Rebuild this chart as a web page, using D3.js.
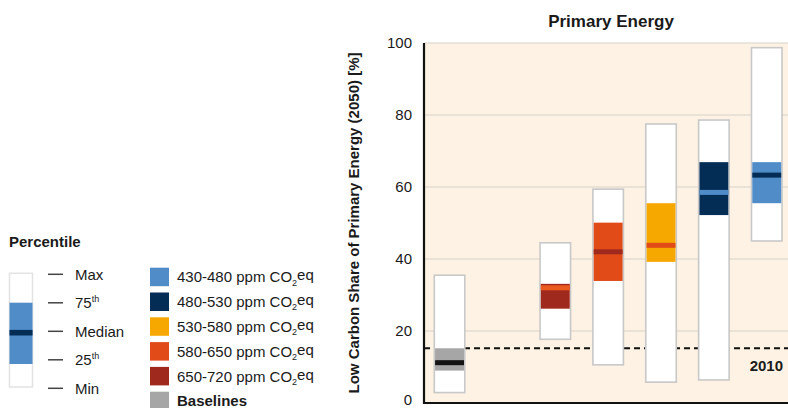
<!DOCTYPE html>
<html>
<head>
<meta charset="utf-8">
<script src="https://cdn.jsdelivr.net/npm/d3@7"></script>
<style>
  html, body { margin: 0; padding: 0; background: #ffffff; }
  svg { display: block; }
  text { font-family: "Liberation Sans Narrow", "Arial Narrow", "Liberation Sans", sans-serif; fill: #1a1a1a; }
</style>
</head>
<body>
<svg id="chart" width="788" height="408"></svg>
<script>
// Scenario categories, left to right on the x axis (one slot holds no scenarios)
const categories = ["Baselines", "720-1000 ppm CO2eq", "650-720 ppm CO2eq", "580-650 ppm CO2eq",
                    "530-580 ppm CO2eq", "480-530 ppm CO2eq", "430-480 ppm CO2eq"];
// Low carbon share of primary energy in 2050 [%], percentiles per category
const minValues    = [2.9,  null, 17.7, 10.6, 5.8,  6.4,  45.0];
const p25Values    = [9.0,  null, 26.2, 33.9, 39.2, 52.2, 55.5];
const medianValues = [11.2, null, 32.0, 42.0, 43.8, 58.5, 63.3];
const p75Values    = [15.2, null, 33.1, 50.1, 55.5, 66.9, 66.9];
const maxValues    = [35.5, null, 44.5, 59.4, 77.5, 78.6, 98.7];
// 2010 reference level
const value2010 = 15.2;
const yTicks = [0, 20, 40, 60, 80, 100];

// Legend entries
const legendKeys = ["430-480 ppm CO2eq", "480-530 ppm CO2eq", "530-580 ppm CO2eq",
                    "580-650 ppm CO2eq", "650-720 ppm CO2eq", "Baselines"];
const percentileLabels = ["Max", "75th", "Median", "25th", "Min"];
const percentileLevels = [100, 75, 50, 25, 0];

const fill = d3.scaleOrdinal()
  .domain(["430-480 ppm CO2eq", "480-530 ppm CO2eq", "530-580 ppm CO2eq",
           "580-650 ppm CO2eq", "650-720 ppm CO2eq", "Baselines"])
  .range(["#4f8cc8", "#042d56", "#f6a800", "#e04b18", "#a0291d", "#a6a6a6"]);
const medianFill = d3.scaleOrdinal()
  .domain(["430-480 ppm CO2eq", "480-530 ppm CO2eq", "530-580 ppm CO2eq",
           "580-650 ppm CO2eq", "650-720 ppm CO2eq", "Baselines"])
  .range(["#042d56", "#4f8cc8", "#e04b18", "#a0291d", "#ea5a1e", "#141414"]);

const svg = d3.select("#chart");

// ---- plot area ----
const plot = { left: 424, right: 788, top: 43, bottom: 403 };
const y = d3.scaleLinear().domain([0, 100]).range([plot.bottom, plot.top]);
const x = d3.scaleBand().domain(categories).range([434.3, 782]).paddingInner(0.423).paddingOuter(0);

svg.append("rect")
  .attr("x", plot.left).attr("y", plot.top)
  .attr("width", plot.right - plot.left).attr("height", plot.bottom - plot.top)
  .attr("fill", "#fdf2e3");

// gridlines
svg.append("g").selectAll("line").data(yTicks.filter(t => t > 0)).join("line")
  .attr("x1", plot.left).attr("x2", plot.right)
  .attr("y1", d => y(d)).attr("y2", d => y(d))
  .attr("stroke", "#d8d2c9").attr("stroke-width", 1);

// 2010 dashed reference
svg.append("line")
  .attr("x1", plot.left).attr("x2", plot.right)
  .attr("y1", y(value2010)).attr("y2", y(value2010))
  .attr("stroke", "#111").attr("stroke-width", 2).attr("stroke-dasharray", "6,4");

// y axis with labels only
const yAxis = d3.axisLeft(y).tickValues(yTicks).tickSize(0).tickPadding(12);
const gy = svg.append("g").attr("transform", `translate(${plot.left},0)`).call(yAxis);
gy.select(".domain").remove();
gy.selectAll("text").attr("font-size", 15).attr("fill", "#1a1a1a")
  .style("font-family", '"Liberation Sans Narrow", "Arial Narrow", sans-serif');
// keep the zero label inside the page edge
gy.selectAll(".tick").filter(d => d === 0).select("text").attr("dy", "0.1em");

// bars
const rows = categories.map((c, i) => ({
  cat: c, min: minValues[i], p25: p25Values[i], med: medianValues[i], p75: p75Values[i], max: maxValues[i]
})).filter(d => d.min != null);

const bars = svg.append("g").selectAll("g").data(rows).join("g");
bars.append("rect")
  .attr("x", d => x(d.cat)).attr("width", x.bandwidth())
  .attr("y", d => y(d.max)).attr("height", d => y(d.min) - y(d.max))
  .attr("fill", "#ffffff").attr("stroke", "#c8c8c8").attr("stroke-width", 1.6);
bars.append("rect")
  .attr("x", d => x(d.cat) + 0.8).attr("width", x.bandwidth() - 1.6)
  .attr("y", d => y(d.p75)).attr("height", d => y(d.p25) - y(d.p75))
  .attr("fill", d => fill(d.cat));
bars.append("rect")
  .attr("x", d => x(d.cat) + 0.8).attr("width", x.bandwidth() - 1.6)
  .attr("y", d => y(d.med) - 2.5).attr("height", 5)
  .attr("fill", d => medianFill(d.cat));

// axis frame
svg.append("line").attr("x1", plot.left).attr("x2", plot.left)
  .attr("y1", plot.top).attr("y2", plot.bottom + 1)
  .attr("stroke", "#111").attr("stroke-width", 2.2);
svg.append("line").attr("x1", plot.left - 1).attr("x2", plot.right)
  .attr("y1", plot.bottom).attr("y2", plot.bottom)
  .attr("stroke", "#111").attr("stroke-width", 2.2);

svg.append("text").attr("x", 783).attr("y", 371).attr("text-anchor", "end")
  .attr("font-size", 15).attr("font-weight", "bold").text("2010");

// titles
svg.append("text").attr("x", 611).attr("y", 27).attr("text-anchor", "middle")
  .attr("font-size", 17).attr("font-weight", "bold").text("Primary Energy");
svg.append("text")
  .attr("transform", "translate(359,223) rotate(-90)")
  .attr("text-anchor", "middle").attr("font-size", 15).attr("font-weight", "bold")
  .text("Low Carbon Share of Primary Energy (2050) [%]");

// ---- percentile legend ----
svg.append("text").attr("x", 9).attr("y", 247).attr("font-size", 15).attr("font-weight", "bold")
  .text("Percentile");
// glyph box and label rows
const glyphY = d3.scaleLinear().domain([0, 25, 50, 75, 100]).range([387, 364, 332.7, 302.7, 273.3]);
const labelY = d3.scaleLinear().domain([0, 100]).range([388.3, 274.3]);
const lx0 = 9.5, lw = 23;
svg.append("rect").attr("x", lx0).attr("y", glyphY(100)).attr("width", lw).attr("height", glyphY(0) - glyphY(100))
  .attr("fill", "#fff").attr("stroke", "#e2e2e2").attr("stroke-width", 1.5);
svg.append("rect").attr("x", lx0).attr("y", glyphY(75)).attr("width", lw).attr("height", glyphY(25) - glyphY(75))
  .attr("fill", fill("430-480 ppm CO2eq"));
svg.append("rect").attr("x", lx0).attr("y", glyphY(50) - 2.8).attr("width", lw).attr("height", 5.6)
  .attr("fill", medianFill("430-480 ppm CO2eq"));

const pl = svg.append("g").selectAll("g").data(percentileLabels).join("g")
  .attr("transform", (d, i) => `translate(0,${labelY(percentileLevels[i])})`);
pl.append("line").attr("x1", 48).attr("x2", 63).attr("stroke", "#444").attr("stroke-width", 1.5);
const plt = pl.append("text").attr("x", 75).attr("y", 5.4).attr("font-size", 15);
plt.each(function(d) {
  const t = d3.select(this);
  const m = d.match(/^(\d+)(th)$/);
  if (m) {
    t.append("tspan").text(m[1]);
    t.append("tspan").attr("font-size", 9).attr("dy", "-0.65em").text(m[2]);
  } else {
    t.text(d);
  }
});

// ---- scenario colour legend ----
const sw = svg.append("g").selectAll("g").data(legendKeys).join("g")
  .attr("transform", (d, i) => `translate(150,${267.7 + i * 24.8})`);
sw.append("rect").attr("width", 19).attr("height", 18.5).attr("fill", d => fill(d));
const swt = sw.append("text").attr("x", 27).attr("y", 14.7).attr("font-size", 15);
swt.each(function(d) {
  const t = d3.select(this);
  const m = d.match(/^(.*CO)2(eq)$/);
  if (m) {
    t.append("tspan").text(m[1]);
    t.append("tspan").attr("font-size", 9).attr("dy", "0.35em").text("2");
    t.append("tspan").attr("dy", "-0.35em").text(m[2]);
  } else {
    t.attr("font-weight", "bold").text(d);
  }
});
</script>
</body>
</html>
